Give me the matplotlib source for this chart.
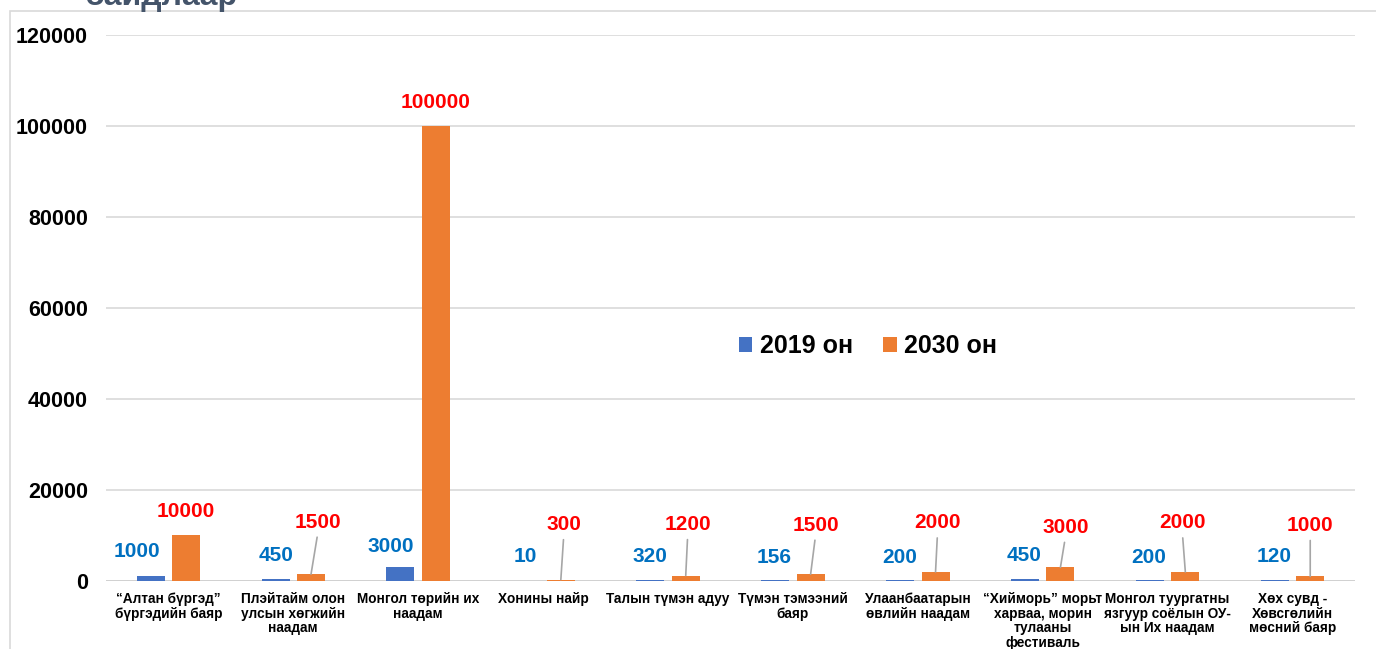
import numpy as np
import matplotlib.pyplot as plt
from matplotlib.patches import Rectangle

plt.rcParams['font.family'] = ['Liberation Sans', 'DejaVu Sans']

# Өгөгдөл
categories = [
    "“Алтан бүргэд”\nбүргэдийн баяр",
    "Плэйтайм олон\nулсын хөгжийн\nнаадам",
    "Монгол төрийн их\nнаадам",
    "Хонины найр",
    "Талын түмэн адуу",
    "Түмэн тэмээний\nбаяр",
    "Улаанбаатарын\nөвлийн наадам",
    "“Хийморь” морьт\nхарваа, морин\nтулааны\nфестиваль",
    "Монгол туургатны\nязгуур соёлын ОУ-\nын Их наадам",
    "Хөх сувд -\nХөвсгөлийн\nмөсний баяр",
]
values_2019 = [1000, 450, 3000, 10, 320, 156, 200, 450, 200, 120]
values_2030 = [10000, 1500, 100000, 300, 1200, 1500, 2000, 3000, 2000, 1000]
series_names = ["2019 он", "2030 он"]
yticks = [0, 20000, 40000, 60000, 80000, 100000, 120000]

# Шошгоны байрлал (пиксел шилжилт)
blue_dx = [-14, 0, -10, 0, 0, -1, 0, -1, -1, -1]
blue_dy = [25, 23, 21, 24, 23, 23, 23, 23, 23, 24]
red_dx = [0, 7, 0, 3, 2, 5, 2, 5, -3, 0]
red_dy = [24, 52, 23, 55, 51, 49, 49, 40, 49, 51]

c_blue = '#4472C4'
c_orange = '#ED7D31'

fig = plt.figure(figsize=(13.76, 6.49), dpi=100)
ax = fig.add_axes([0.077, 0.1048, 0.9077, 0.8413])

x = np.arange(len(categories))
w = 0.224
off = 0.142
ax.bar(x - off, values_2019, w, color=c_blue, label=series_names[0], zorder=3)
ax.bar(x + off, values_2030, w, color=c_orange, label=series_names[1], zorder=3)

ax.set_xlim(-0.5, len(categories) - 0.5)
ax.set_ylim(0, 120000)
ax.set_yticks(yticks)
ax.set_yticklabels([str(t) for t in yticks], fontsize=15.5, fontweight='bold')
ax.set_xticks(x)
ax.set_xticklabels(categories, fontsize=9.8, fontweight='bold', linespacing=1.05,
                   va='top')
ax.tick_params(axis='both', length=0)
ax.tick_params(axis='y', pad=13)
ax.tick_params(axis='x', pad=8)
for s in ax.spines.values():
    s.set_visible(False)
ax.grid(axis='y', color='#D9D9D9', lw=1.2, zorder=0)
ax.axhline(0, color='#D0D0D0', lw=2, zorder=2)

for i in range(len(categories)):
    ax.annotate(str(values_2019[i]), xy=(x[i] - off, values_2019[i]),
                xytext=(blue_dx[i], blue_dy[i]), textcoords='offset pixels',
                ha='center', va='center', fontsize=15, fontweight='bold',
                color='#0070C0', zorder=5)
    props = None
    if red_dy[i] > 30:
        props = dict(arrowstyle='-', color='#A6A6A6', lw=1.2,
                     relpos=(0.5, 0.0), shrinkA=2, shrinkB=0)
    ax.annotate(str(values_2030[i]), xy=(x[i] + off, values_2030[i]),
                xytext=(red_dx[i], red_dy[i]), textcoords='offset pixels',
                ha='center', va='center', fontsize=15, fontweight='bold',
                color='#FF0000', arrowprops=props, zorder=5)

ax.legend(loc='center', bbox_to_anchor=(0.61, 0.43), ncol=2, frameon=False,
          prop={'size': 18, 'weight': 'bold'}, handlelength=0.55,
          handleheight=0.55, handletextpad=0.3, columnspacing=1.2)

# Хүрээ ба гарчиг
fig.patches.append(Rectangle((0.0073, -0.2), 1.2, 1.183, transform=fig.transFigure,
                             fill=False, edgecolor='#D9D9D9', lw=1.2))
fig.text(85 / 1376, 1 - 5 / 649, "байдлаар", fontsize=23, fontweight='bold',
         color='#44546A', ha='left', va='baseline')

fig.savefig('out.png', dpi=100)
